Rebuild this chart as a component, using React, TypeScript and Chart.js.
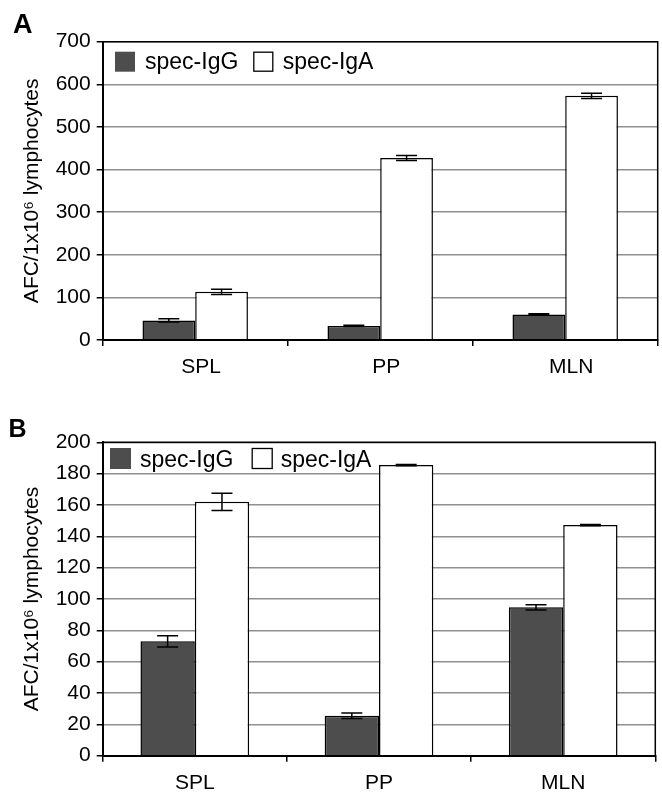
import React, { useEffect, useRef } from 'react';
import { Chart, registerables } from 'chart.js';

Chart.register(...registerables);

// ---------- data ----------
const categories = ['SPL', 'PP', 'MLN'];
const seriesNames = ['spec-IgG', 'spec-IgA'];

const panelAIgG = [46, 33, 60];
const panelAIgGErr = [4, 1.5, 1.5];
const panelAIgA = [113, 427, 573];
const panelAIgAErr = [6, 6, 6];

const panelBIgG = [73, 25.5, 94.7];
const panelBIgGErr = [3.6, 1.8, 1.7];
const panelBIgA = [162, 185.5, 147.2];
const panelBIgAErr = [5.5, 0.4, 0.4];

const panelAAxis = { min: 0, max: 700, step: 100 };
const panelBAxis = { min: 0, max: 200, step: 20 };

const yTitle = 'AFC/1x10\u2076 lymphocytes';
const panelLetters = ['A', 'B'];

// ---------- styles ----------
const FONT = "'Liberation Sans', Arial, Helvetica, sans-serif";
const DARK = '#4d4d4d';
const GRID = '#8f8f8f';

Chart.defaults.font.family = FONT;
Chart.defaults.color = '#000';

const errorBarPlugin = {
  id: 'errorBars',
  afterDatasetsDraw(chart: any, _args: any, opts: any) {
    const errs: number[][] = opts.errors || [];
    const ctx = chart.ctx;
    const yScale = chart.scales.y;
    ctx.save();
    ctx.strokeStyle = '#000';
    ctx.lineWidth = 1.5;
    chart.data.datasets.forEach((ds: any, i: number) => {
      const meta = chart.getDatasetMeta(i);
      meta.data.forEach((el: any, j: number) => {
        const v = ds.data[j];
        const e = (errs[i] || [])[j] || 0;
        const x = el.x;
        const yTop = yScale.getPixelForValue(v + e);
        const yBot = yScale.getPixelForValue(v - e);
        const cw = opts.capWidth / 2;
        ctx.beginPath();
        ctx.moveTo(x, yTop);
        ctx.lineTo(x, yBot);
        ctx.moveTo(x - cw, yTop);
        ctx.lineTo(x + cw, yTop);
        ctx.moveTo(x - cw, yBot);
        ctx.lineTo(x + cw, yBot);
        ctx.stroke();
      });
    });
    ctx.restore();
  },
};

const framePlugin = {
  id: 'frame',
  afterDraw(chart: any, _args: any, opts: any) {
    const { ctx, chartArea } = chart;
    ctx.save();
    ctx.strokeStyle = '#000';
    ctx.lineWidth = 1.5;
    ctx.beginPath();
    ctx.moveTo(chartArea.left, chartArea.top);
    ctx.lineTo(chartArea.right, chartArea.top);
    ctx.lineTo(chartArea.right, chartArea.bottom);
    ctx.stroke();
    // panel letter
    ctx.fillStyle = '#000';
    ctx.font = `bold ${opts.letterSize}px ${FONT}`;
    ctx.textBaseline = 'alphabetic';
    ctx.textAlign = 'left';
    ctx.fillText(opts.letter, opts.letterX, opts.letterY);
    ctx.restore();
  },
};

const boxLegendPlugin = {
  id: 'boxLegend',
  afterDraw(chart: any, _args: any, opts: any) {
    const ctx = chart.ctx;
    ctx.save();
    ctx.font = `23px ${FONT}`;
    ctx.textBaseline = 'alphabetic';
    ctx.textAlign = 'left';
    chart.data.datasets.forEach((ds: any, i: number) => {
      const it = opts.items[i];
      ctx.fillStyle = ds.backgroundColor;
      ctx.fillRect(it.bx, opts.by, opts.bs, opts.bs);
      if (ds.backgroundColor === '#ffffff') {
        ctx.strokeStyle = '#000';
        ctx.lineWidth = 1.3;
        ctx.strokeRect(it.bx + 0.5, opts.by + 0.5, opts.bs - 1, opts.bs - 1);
      }
      ctx.fillStyle = '#000';
      ctx.fillText(ds.label, it.tx, opts.ty);
    });
    ctx.restore();
  },
};

function makeConfig(p: any) {
  return {
    type: 'bar',
    data: {
      labels: categories,
      datasets: [
        {
          label: seriesNames[0],
          data: p.igg,
          backgroundColor: DARK,
          borderColor: '#000',
          borderWidth: 1.5,
          borderSkipped: 'start',
          categoryPercentage: p.catPct,
          barPercentage: 1,
        },
        {
          label: seriesNames[1],
          data: p.iga,
          backgroundColor: '#ffffff',
          borderColor: '#000',
          borderWidth: 1.5,
          borderSkipped: 'start',
          categoryPercentage: p.catPct,
          barPercentage: 1,
        },
      ],
    },
    options: {
      responsive: false,
      animation: false,
      devicePixelRatio: 1,
      layout: { padding: p.padding },
      scales: {
        x: {
          grid: {
            display: true,
            offset: true,
            drawOnChartArea: false,
            drawTicks: true,
            tickLength: 6,
            color: '#000',
            lineWidth: 1.5,
          },
          border: { display: true, color: '#000', width: 2, z: 1 },
          ticks: { font: { size: 21 }, color: '#000', padding: 9, labelOffset: p.labelOffset },
          afterFit: (s: any) => {
            s.height = p.xHeight;
          },
        },
        y: {
          min: p.axis.min,
          max: p.axis.max,
          ticks: {
            stepSize: p.axis.step,
            font: { size: 21 },
            color: '#000',
            padding: 6,
          },
          grid: {
            color: GRID,
            lineWidth: 1.5,
            tickColor: '#000',
            tickLength: 6,
            drawTicks: true,
          },
          border: { display: true, color: '#000', width: 2, z: 1 },
          title: {
            display: true,
            text: yTitle,
            font: { size: 21 },
            color: '#000',
            padding: { top: 4, bottom: 4 },
          },
          afterFit: (s: any) => {
            s.width = p.yWidth;
          },
        },
      },
      plugins: {
        legend: { display: false },
        tooltip: { enabled: false },
        errorBars: { errors: [p.iggErr, p.igaErr], capWidth: 21 },
        frame: p.letter,
        boxLegend: p.legend,
      },
    },
    plugins: [errorBarPlugin, framePlugin, boxLegendPlugin],
  };
}

const panelA = {
  igg: panelAIgG,
  iga: panelAIgA,
  iggErr: panelAIgGErr,
  igaErr: panelAIgAErr,
  axis: panelAAxis,
  catPct: 0.57,
  labelOffset: 6,
  padding: { top: 41.7, left: 15.4, right: 4.3, bottom: 0 },
  yWidth: 87.3,
  xHeight: 50,
  letter: { letter: panelLetters[0], letterSize: 27, letterX: 13, letterY: 33.3 },
  legend: {
    by: 51.7,
    bs: 20,
    ty: 68.5,
    items: [
      { bx: 115, tx: 145 },
      { bx: 253.3, tx: 282.7 },
    ],
  },
};

const panelB = {
  igg: panelBIgG,
  iga: panelBIgA,
  iggErr: panelBIgGErr,
  igaErr: panelBIgAErr,
  axis: panelBAxis,
  catPct: 0.59,
  labelOffset: 0,
  padding: { top: 52.3, left: 15.4, right: 6.7, bottom: 0 },
  yWidth: 87.3,
  xHeight: 37.3,
  letter: { letter: panelLetters[1], letterSize: 25, letterX: 8.5, letterY: 46.5 },
  legend: {
    by: 58,
    bs: 21,
    ty: 76.7,
    items: [
      { bx: 110, tx: 140 },
      { bx: 251.7, tx: 280.7 },
    ],
  },
};

function Panel({ cfg, top, height }: { cfg: any; top: number; height: number }) {
  const ref = useRef<HTMLCanvasElement | null>(null);
  useEffect(() => {
    if (!ref.current) return;
    const chart = new Chart(ref.current, makeConfig(cfg) as any);
    return () => chart.destroy();
  }, [cfg]);
  return (
    <canvas
      ref={ref}
      width={662}
      height={height}
      style={{ position: 'absolute', left: 0, top, width: 662, height, display: 'block' }}
    />
  );
}

export default function App() {
  return (
    <div
      style={{
        position: 'absolute',
        left: 0,
        top: 0,
        width: 662,
        height: 793,
        background: '#fff',
        overflow: 'hidden',
      }}
    >
      <Panel cfg={panelA} top={0} height={390} />
      <Panel cfg={panelB} top={390} height={403} />
    </div>
  );
}
